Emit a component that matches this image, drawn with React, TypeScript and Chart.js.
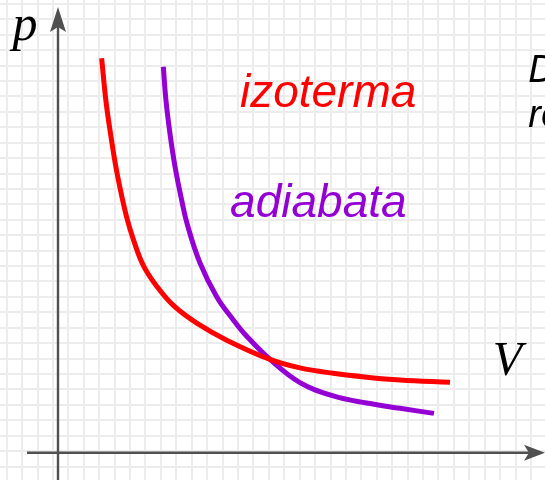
import React, { useEffect, useRef } from "react";
import { Chart, registerables } from "chart.js";
Chart.register(...registerables);

// Isotherm (red) – V, p (axis origin = crossing of the axes, 1 unit = 1 grid cell)
const isothermV = [2.83, 3.11, 3.42, 3.76, 4.09, 4.46, 4.88, 5.53, 6.4, 7.48, 9.0, 10.94, 13.75, 15.69, 17.85, 20.02, 22.18, 25.42];
const isothermP = [25.58, 22.8, 20.6, 18.5, 16.85, 15.25, 13.85, 12.15, 10.8, 9.55, 8.4, 7.3, 6.05, 5.5, 5.15, 4.9, 4.72, 4.57];

// Adiabat (purple)
const adiabatV = [6.83, 7.0, 7.26, 7.59, 8.02, 8.4, 9.21, 10.29, 11.37, 12.24, 13.75, 15.69, 17.85, 20.02, 22.18, 24.38];
const adiabatP = [25.03, 22.87, 20.71, 18.55, 16.38, 14.75, 12.3, 10.12, 8.61, 7.55, 6.05, 4.55, 3.68, 3.22, 2.88, 2.55];

// Labels
const curveLabels = ["izoterma", "adiabata"];
const axisLabels = ["p", "V"];
const sideText = ["D", "re"];

// View range (grid units)
const X_MIN = -3.761;
const X_MAX = 31.582;
const Y_MIN = -1.77;
const Y_MAX = 29.358;

const X_GRID_OFFSET = -3.327;
const Y_GRID_OFFSET = 0.105;

const RED = "#ff0000";
const PURPLE = "#9400d3";
const AXIS = "#505050";

const xGrid: number[] = [];
for (let k = -1; k <= 40; k++) {
  const v = X_GRID_OFFSET + k;
  if (v > X_MIN && v < X_MAX) xGrid.push(v);
}
const yGrid: number[] = [];
for (let k = -3; k <= 35; k++) {
  const v = Y_GRID_OFFSET + k;
  if (v > Y_MIN && v < Y_MAX) yGrid.push(v);
}

const overlay = {
  id: "overlay",
  afterDatasetsDraw(chart: any) {
    const ctx = chart.ctx as CanvasRenderingContext2D;
    const xs = chart.scales.x;
    const ys = chart.scales.y;
    const px = (v: number) => xs.getPixelForValue(v);
    const py = (v: number) => ys.getPixelForValue(v);
    ctx.save();
    ctx.strokeStyle = AXIS;
    ctx.fillStyle = AXIS;
    ctx.lineWidth = 2.4;
    // vertical axis
    const x0 = px(0);
    const y0 = py(0);
    const yTop = py(28.9);
    ctx.beginPath();
    ctx.moveTo(x0, py(Y_MIN));
    ctx.lineTo(x0, yTop + 20);
    ctx.stroke();
    ctx.beginPath();
    ctx.moveTo(x0, yTop);
    ctx.lineTo(x0 - 8, yTop + 25);
    ctx.lineTo(x0, yTop + 20);
    ctx.lineTo(x0 + 8, yTop + 25);
    ctx.closePath();
    ctx.fill();
    // horizontal axis
    const xRight = px(31.58);
    ctx.beginPath();
    ctx.moveTo(px(-2.01), y0);
    ctx.lineTo(xRight - 16, y0);
    ctx.stroke();
    ctx.beginPath();
    ctx.moveTo(xRight, y0);
    ctx.lineTo(xRight - 21, y0 - 8);
    ctx.lineTo(xRight - 16, y0);
    ctx.lineTo(xRight - 21, y0 + 8);
    ctx.closePath();
    ctx.fill();

    ctx.textBaseline = "alphabetic";
    ctx.textAlign = "left";
    ctx.font = "italic 46px 'Liberation Sans', Arial, sans-serif";
    ctx.fillStyle = RED;
    ctx.fillText(curveLabels[0], px(11.8), py(22.44));
    ctx.fillStyle = PURPLE;
    ctx.fillText(curveLabels[1], px(11.16), py(15.3));

    ctx.fillStyle = "#000";
    ctx.font = "italic 50px 'Liberation Serif', 'Times New Roman', serif";
    ctx.fillText(axisLabels[0], px(-2.95), py(26.75));
    ctx.font = "italic 48px 'Liberation Serif', 'Times New Roman', serif";
    ctx.fillText(axisLabels[1], px(28.2), py(5.04));

    ctx.font = "italic 38px 'Liberation Sans', Arial, sans-serif";
    ctx.fillText(sideText[0], px(30.5), py(24.06));
    ctx.fillText(sideText[1], px(30.5), py(21.14));
    ctx.restore();
  },
};

export default function App() {
  const ref = useRef<HTMLCanvasElement | null>(null);
  useEffect(() => {
    if (!ref.current) return;
    const chart = new Chart(ref.current, {
      type: "line",
      data: {
        datasets: [
          {
            label: curveLabels[0],
            data: isothermV.map((v, i) => ({ x: v, y: isothermP[i] })),
            borderColor: RED,
            borderWidth: 5,
            pointRadius: 0,
            tension: 0.4,
            fill: false,
          },
          {
            label: curveLabels[1],
            data: adiabatV.map((v, i) => ({ x: v, y: adiabatP[i] })),
            borderColor: PURPLE,
            borderWidth: 5,
            pointRadius: 0,
            tension: 0.4,
            fill: false,
          },
        ],
      },
      options: {
        animation: false,
        responsive: false,
        devicePixelRatio: 1,
        layout: { padding: 0 },
        plugins: { legend: { display: false }, tooltip: { enabled: false } },
        scales: {
          x: {
            type: "linear",
            min: X_MIN,
            max: X_MAX,
            afterBuildTicks: (s: any) => {
              s.ticks = xGrid.map((v) => ({ value: v }));
            },
            ticks: { display: false },
            border: { display: false },
            grid: { color: "#ececec", lineWidth: 2, drawTicks: false },
          },
          y: {
            type: "linear",
            min: Y_MIN,
            max: Y_MAX,
            afterBuildTicks: (s: any) => {
              s.ticks = yGrid.map((v) => ({ value: v }));
            },
            ticks: { display: false },
            border: { display: false },
            grid: { color: "#ececec", lineWidth: 2, drawTicks: false },
          },
        },
      } as any,
      plugins: [overlay],
    });
    return () => chart.destroy();
  }, []);
  return (
    <div style={{ position: "fixed", left: 0, top: 0, width: 545, height: 480, background: "#fff" }}>
      <canvas ref={ref} width={545} height={480} style={{ display: "block" }} />
    </div>
  );
}
